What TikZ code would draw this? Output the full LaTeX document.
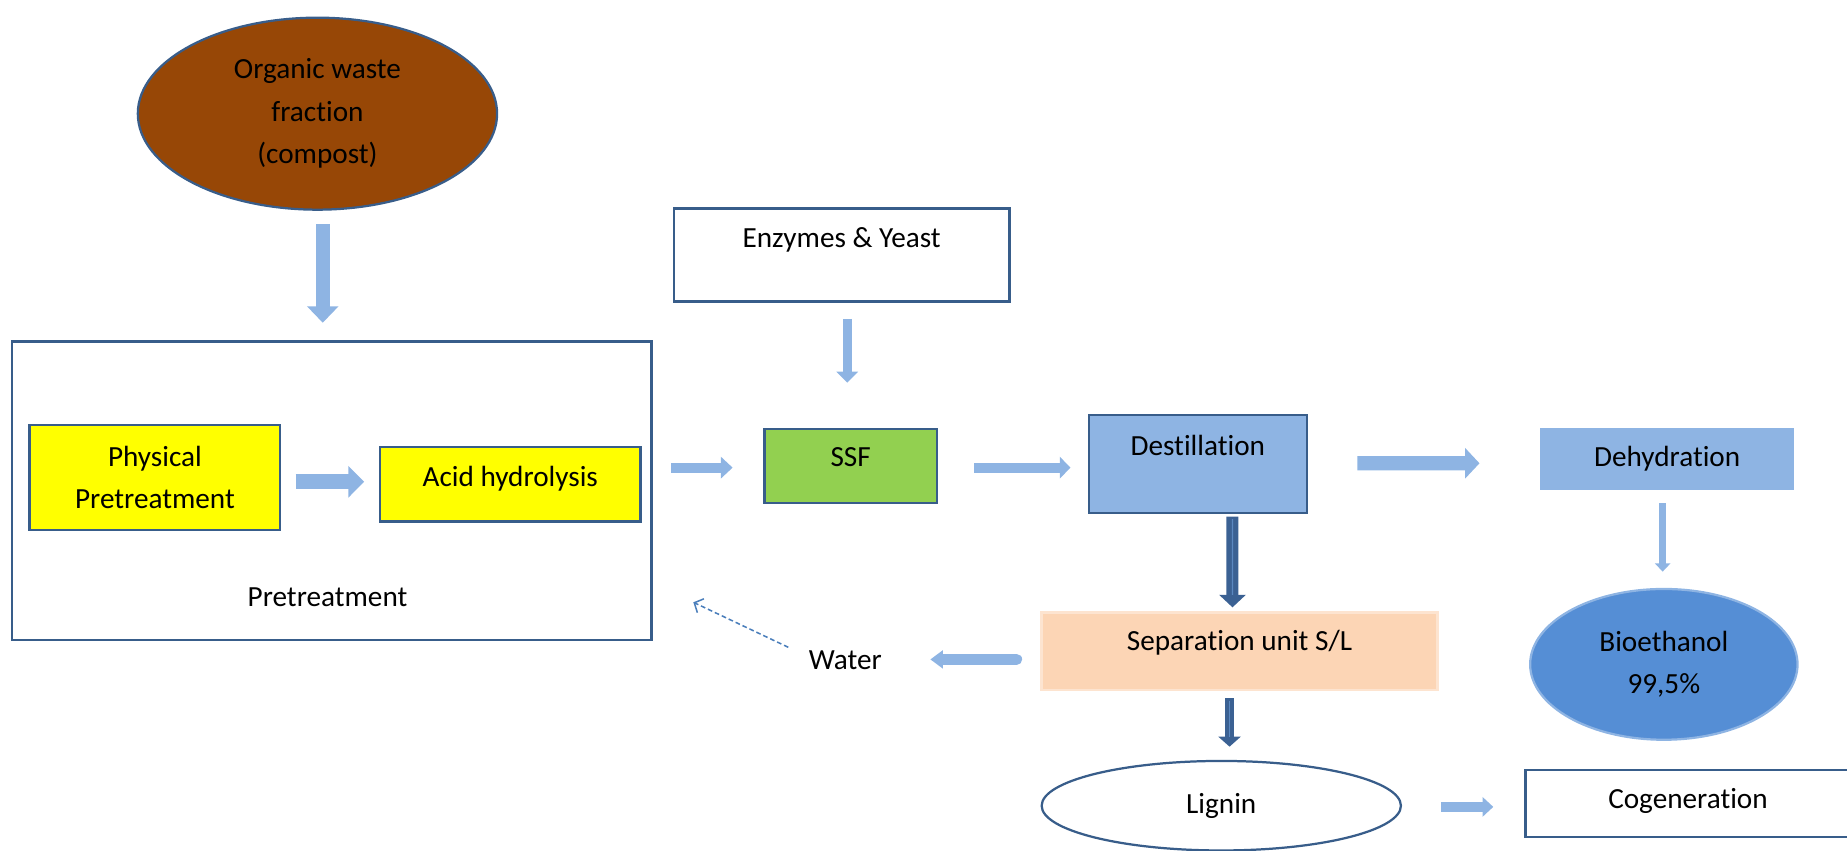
\documentclass[tikz,border=0pt]{standalone}
\usepackage{fontspec}
\setmainfont{Carlito}[Ligatures={NoCommon}]
\usetikzlibrary{shapes.geometric, arrows.meta}

\definecolor{lineblue}{HTML}{385D8A}
\definecolor{flowblue}{HTML}{8EB4E3}
\definecolor{heavyblue}{HTML}{3B6193}
\definecolor{stripeblue}{HTML}{5B88C0}
\definecolor{compost}{HTML}{974706}
\definecolor{ssfgreen}{HTML}{92D050}
\definecolor{ethblue}{HTML}{558ED5}
\definecolor{peach}{HTML}{FCD5B5}
\definecolor{peachedge}{HTML}{FDE4D0}
\definecolor{recycle}{HTML}{4A7EBB}
\definecolor{brightyellow}{HTML}{FFFF00}

\begin{document}
\begin{tikzpicture}[x=1pt, y=-1pt,
  every node/.style={font=\fontsize{24.8}{36}\selectfont, text=black},
  txt/.style={text height=17pt, text depth=5pt, inner sep=0pt},
  box/.style={rectangle, draw=lineblue, line width=1.9pt, inner sep=0pt, outer sep=0pt, align=center},
  oval/.style={ellipse, draw=lineblue, line width=1.9pt, inner sep=0pt, outer sep=0pt, align=center},
  flow/.style args={#1/#2/#3}{draw=flowblue, line width=#1pt,
    -{Triangle[length=#3pt, width=#2pt]}},
  heavy/.style args={#1/#2/#3}{draw=heavyblue, line width=#1pt,
    -{Triangle[length=#3pt, width=#2pt]},
    postaction={draw=stripeblue, line width=1.2pt, -, shorten >=#3pt, shorten <=2pt}},
  recycleflow/.style={draw=recycle, line width=1.3pt, dash pattern=on 4pt off 2.5pt,
    -{Straight Barb[length=6pt, width=13pt]}}
]
\useasboundingbox (0,0) rectangle (1568,722);
\clip (0,0) rectangle (1568,722);

% feedstock
\node[oval, fill=compost, minimum width=305pt, minimum height=163pt] (waste)
  at (269.5,96.5) {Organic waste\\fraction\\(compost)};

% pretreatment block
\node[box, minimum width=543pt, minimum height=253pt] (pretreat) at (281.5,416.5) {};
\node[txt] (pretitle) at (278,509) {Pretreatment};
\node[box, fill=brightyellow, minimum width=213pt, minimum height=89pt] (physical)
  at (131.5,405.5) {Physical\\Pretreatment};
\node[box, fill=brightyellow, minimum width=221pt, minimum height=63pt,
  label={[txt, name=acidtext, yshift=4pt]center:Acid hydrolysis}] (acid) at (433.2,411.2) {};

% fermentation and distillation
\node[box, minimum width=285pt, minimum height=79pt,
  label={[txt, name=enzymestext, yshift=12.5pt]center:Enzymes \& Yeast}] (enzymes) at (714.5,216.5) {};
\node[box, fill=ssfgreen, minimum width=146.5pt, minimum height=62.8pt,
  label={[txt, name=ssftext, yshift=5.5pt]center:SSF}] (ssf) at (722.2,395.9) {};
\node[box, fill=flowblue, minimum width=185.2pt, minimum height=82.6pt,
  label={[txt, name=desttext, yshift=12.9pt]center:Destillation}] (dest) at (1016.9,393.9) {};
\node[box, fill=flowblue, draw=flowblue, minimum width=213.7pt, minimum height=50.9pt,
  label={[txt, name=dehtext]center:Dehydration}] (deh) at (1415.35,389.95) {};
\node[oval, fill=ethblue, draw=flowblue, minimum width=227pt, minimum height=128pt] (ethanol)
  at (1412.5,564) {Bioethanol\\99,5\%};

% solids handling
\node[box, fill=peach, draw=peachedge, minimum width=336.2pt, minimum height=65.7pt,
  label={[txt, name=septext, yshift=6.3pt]center:Separation unit S/L}] (sep) at (1052.3,552.85) {};
\node[txt] (water) at (717.7,562) {Water};
\node[oval, fill=white, minimum width=305pt, minimum height=76pt] (lignin) at (1036.8,684) {Lignin};
\node[box, fill=white, minimum width=276pt, minimum height=57.2pt,
  label={[txt, name=cogentext, yshift=2pt]center:Cogeneration}] (cogen) at (1433,682.2) {};

% main flow arrows
\draw[flow=12/26/14] ([xshift=4.5pt, yshift=-12pt]waste.south) -- ([xshift=-7.5pt, yshift=16pt]pretreat.north);
\draw[flow=12.6/26/13.4] ([xshift=13pt, yshift=-3.5pt]physical.east) -- ([xshift=-13.5pt, yshift=2.2pt]acid.west);
\draw[flow=8.5/18/10] ([xshift=17pt, yshift=19.5pt]pretreat.east) -- ([xshift=-27pt, yshift=-1.1pt]ssf.west);
\draw[flow=8/18/9.4] ([xshift=4.8pt, yshift=-14.8pt]enzymes.south) -- ([xshift=-2.9pt, yshift=39.6pt]ssf.north);
\draw[flow=8.5/18/9.1] ([xshift=31.5pt, yshift=-1.1pt]ssf.east) -- ([xshift=-15.5pt, yshift=-3.1pt]dest.west);
\draw[flow=12/25.5/12.3] ([xshift=42.9pt, yshift=0.6pt]dest.east) -- ([xshift=-52.5pt, yshift=-3.35pt]deh.west);
\draw[flow=6.2/13/7.1] ([xshift=-3.85pt, yshift=-11.9pt]deh.south) -- ([xshift=-1pt, yshift=14.7pt]ethanol.north);

% residue streams
\draw[heavy=10.2/22/10.6] ([xshift=29.4pt, yshift=-3.4pt]dest.south) -- ([xshift=-6pt, yshift=4.4pt]sep.north);
\draw[flow=9.5/15/10.7, line cap=round] ([xshift=-21.2pt, yshift=-6.95pt]sep.west) -- ([xshift=72.1pt, yshift=2.2pt]water.center);
\draw[heavy=8/18.6/8.5] ([xshift=-8.5pt, yshift=-7.1pt]sep.south) -- ([xshift=7pt, yshift=12.1pt]lignin.north);
\draw[flow=8.5/16.3/9.1] ([xshift=34pt, yshift=-1pt]lignin.east) -- ([xshift=-27.3pt, yshift=-2.8pt]cogen.west);

% water recycle
\draw[recycleflow] ([xshift=-48.5pt, yshift=12.5pt]water.center) -- ([xshift=35.6pt, yshift=-94.8pt]pretreat.east);
\end{tikzpicture}
\end{document}
